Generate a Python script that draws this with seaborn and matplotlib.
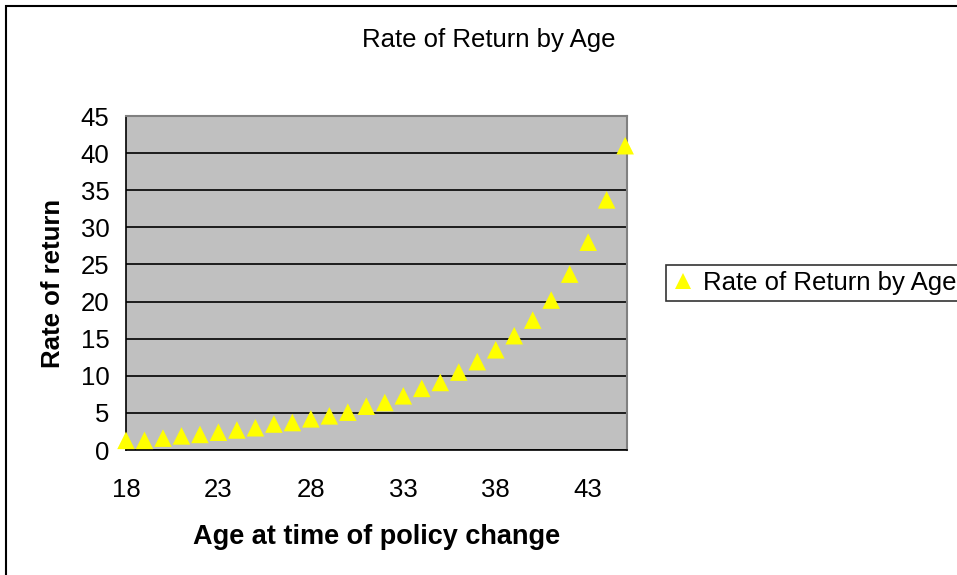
import matplotlib
matplotlib.use("Agg")
import matplotlib.pyplot as plt
import seaborn as sns
import pandas as pd
from matplotlib.lines import Line2D
from matplotlib.patches import Rectangle

ages = list(range(18, 46))
rates = [1.3, 1.3, 1.6, 1.9, 2.1, 2.4, 2.7, 3.0, 3.5, 3.7, 4.2, 4.6, 5.1, 5.9,
         6.4, 7.3, 8.3, 9.1, 10.5, 11.9, 13.5, 15.4, 17.5, 20.2, 23.7, 28.0,
         33.7, 41.0]
x_ticks = [18, 23, 28, 33, 38, 43]
y_ticks = [0, 5, 10, 15, 20, 25, 30, 35, 40, 45]
series_name = "Rate of Return by Age"

df = pd.DataFrame({"Age": ages, "Rate": rates})

sns.set_style("white")
plt.rcParams["font.family"] = ["Liberation Sans", "DejaVu Sans"]
plt.rcParams["text.color"] = "black"
plt.rcParams["axes.labelcolor"] = "black"

fig = plt.figure(figsize=(9.57, 5.75), dpi=100)
W, H = 957, 575
left, right, top, bottom = 126, 627, 116, 450
ax = fig.add_axes([left / W, 1 - bottom / H, (right - left) / W, (bottom - top) / H])
ax.set_facecolor("#C0C0C0")

sns.scatterplot(data=df, x="Age", y="Rate", ax=ax, marker="^", s=160,
                color="#FFFF00", edgecolor="none", linewidth=0, clip_on=False,
                zorder=3, legend=False)

ax.set_xlim(18, 45.1)
ax.set_ylim(0, 45)
ax.set_xticks(x_ticks)
ax.set_yticks(y_ticks)
ax.yaxis.grid(True, color="black", linewidth=1.2)
ax.set_axisbelow(True)
ax.tick_params(axis="both", direction="out", length=6, width=1, colors="black",
               labelsize=18.5, pad=6)
ax.tick_params(axis="x", pad=14)
for s in ["left", "bottom"]:
    ax.spines[s].set_color("black")
    ax.spines[s].set_linewidth(1.2)
for s in ["top", "right"]:
    ax.spines[s].set_color("#808080")
    ax.spines[s].set_linewidth(1.5)

ax.set_xlabel("Age at time of policy change", fontsize=19.5, fontweight="bold",
              labelpad=16, color="black")
ax.set_ylabel("Rate of return", fontsize=18.5, fontweight="bold", labelpad=11,
              color="black")
fig.text(489 / W, 1 - 40 / H, "Rate of Return by Age", fontsize=18.5,
         ha="center", va="center", color="black")

handle = Line2D([], [], marker="^", linestyle="none", color="#FFFF00",
                markersize=11, markeredgewidth=0)
leg = fig.legend([handle], [series_name], loc="center left",
                 bbox_to_anchor=(666 / W, 1 - 283 / H), fontsize=18.5,
                 frameon=True, fancybox=False, edgecolor="black",
                 handlelength=0.8, handletextpad=0.4, borderpad=0.25,
                 borderaxespad=0, labelcolor="black")
leg.get_frame().set_linewidth(1.2)

fig.patches.append(Rectangle((6 / W, -0.01), 1.1, 1 - 6 / H + 0.01,
                             transform=fig.transFigure, fill=False,
                             edgecolor="black", linewidth=1.5, clip_on=False))

fig.savefig("out.png", dpi=100)
